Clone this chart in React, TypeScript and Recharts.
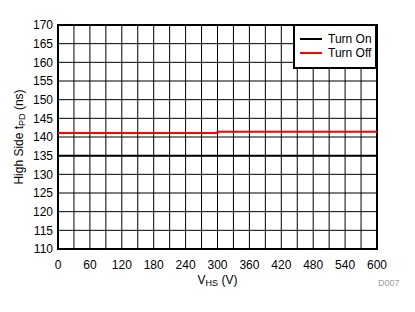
import React from 'react';
import { LineChart, Line, XAxis, YAxis, CartesianGrid, ReferenceArea } from 'recharts';

// Supply voltage VHS (V)
const voltages = [0, 100, 200, 300, 400, 500, 600];
// Propagation delay (ns)
const turnOn = [135, 135, 135, 135, 135, 135, 135];
const turnOff = [141.1, 141.1, 141.1, 141.4, 141.4, 141.4, 141.4];

const xTicks = [0, 30, 60, 90, 120, 150, 180, 210, 240, 270, 300, 330, 360, 390, 420, 450, 480, 510, 540, 570, 600];
const yTicks = [110, 115, 120, 125, 130, 135, 140, 145, 150, 155, 160, 165, 170];

const series = [
  { key: 'on', name: 'Turn On', color: '#000' },
  { key: 'off', name: 'Turn Off', color: '#ff0000' },
];

const data = voltages.map((v, i) => ({ v, on: turnOn[i], off: turnOff[i] }));

const font = '"Liberation Sans", Arial, sans-serif';

const XTick = (props: any) => {
  const { x, y, payload } = props;
  if (payload.value % 60 !== 0) return null;
  return (
    <text x={x} y={y} dy="0.71em" textAnchor="middle" fontSize={12} fill="#000" fontFamily={font}>
      {payload.value}
    </text>
  );
};

const YLabel = (props: any) => {
  const { viewBox } = props;
  const cx = 19;
  const cy = viewBox.y + viewBox.height / 2;
  return (
    <text x={cx} y={cy} transform={`rotate(-90 ${cx} ${cy})`} textAnchor="middle" dominantBaseline="central" fontSize={12} fill="#000" fontFamily={font}>
      High Side t<tspan fontSize={9} dy={3}>PD</tspan>
      <tspan dy={-3}> (ns)</tspan>
    </text>
  );
};

const XLabel = (props: any) => {
  const { viewBox } = props;
  const cx = viewBox.x + viewBox.width / 2;
  return (
    <text x={cx} y={284} textAnchor="middle" fontSize={12} fill="#000" fontFamily={font}>
      V<tspan fontSize={9} dy={2}>HS</tspan>
      <tspan dy={-2}> (V)</tspan>
    </text>
  );
};

export default function App() {
  return (
    <div style={{ position: 'absolute', left: 0, top: 0, width: 415, height: 312, background: '#fff' }}>
      <LineChart width={415} height={312} data={data} margin={{ top: 25, right: 38, left: 0, bottom: 33 }}>
        <CartesianGrid stroke="#000" strokeWidth={1} />
        <XAxis
          dataKey="v"
          type="number"
          domain={[0, 600]}
          ticks={xTicks}
          interval={0}
          tickSize={0}
          tickMargin={11}
          tick={<XTick />}
          axisLine={false}
          height={30}
          label={<XLabel />}
        />
        <YAxis
          type="number"
          domain={[110, 170]}
          ticks={yTicks}
          interval={0}
          tickSize={0}
          tickMargin={5}
          axisLine={false}
          width={58}
          tick={{ fontSize: 12, fill: '#000', fontFamily: font }}
          label={<YLabel />}
        />
        <ReferenceArea x1={0} x2={600} y1={110} y2={170} fill="none" stroke="#000" strokeWidth={2} ifOverflow="visible" />
        {series.map((s) => (
          <Line
            key={s.key}
            type={s.key === 'off' ? 'stepAfter' : 'linear'}
            dataKey={s.key}
            stroke={s.color}
            strokeWidth={2}
            dot={false}
            isAnimationActive={false}
            name={s.name}
          />
        ))}
      </LineChart>

      {/* Legend box in the top right corner of the plot */}
      <div style={{ position: 'absolute', left: 293, top: 24, width: 80, height: 41, border: '2px solid #000', background: '#fff', fontFamily: font, fontSize: 12 }}>
        {series.map((s, i) => (
          <div key={s.key} style={{ display: 'flex', alignItems: 'center', height: 14, marginTop: i === 0 ? 6 : 0 }}>
            <div style={{ width: 22, height: 2, background: s.color, marginLeft: 5, marginRight: 6 }} />
            <span style={{ lineHeight: '14px' }}>{s.name}</span>
          </div>
        ))}
      </div>
      <div style={{ position: 'absolute', left: 378, top: 278, fontSize: 9, color: '#a0a0a0', fontFamily: font }}>D007</div>
    </div>
  );
}
